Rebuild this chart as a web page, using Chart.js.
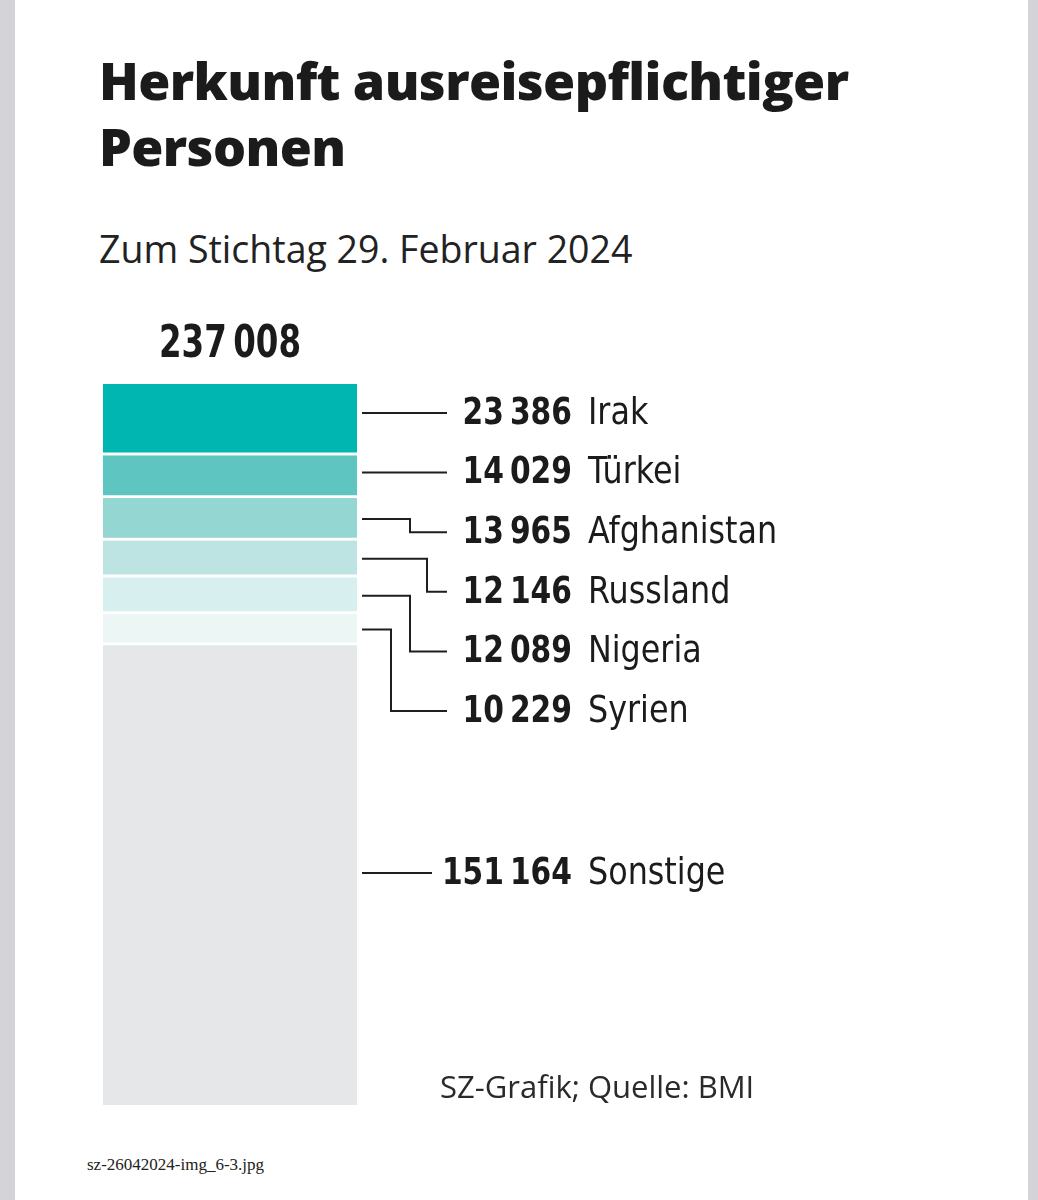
<!DOCTYPE html>
<html lang="de">
<head>
<meta charset="utf-8">
<title>Herkunft ausreisepflichtiger Personen</title>
<script src="https://cdn.jsdelivr.net/npm/chart.js@4.4.1/dist/chart.umd.min.js"></script>
<style>
  html, body { margin: 0; padding: 0; }
  body {
    width: 1038px; height: 1200px; position: relative; overflow: hidden;
    background: #fff; font-family: "Open Sans", sans-serif; color: #1b1b1b;
  }
  .edge { position: absolute; top: 0; bottom: 0; background: #d4d4d8; }
  .edge.left { left: 0; width: 15px; }
  .edge.right { right: 0; width: 10px; }
  h1 {
    position: absolute; left: 99px; top: 47px; margin: 0;
    font-size: 52px; line-height: 66px; font-weight: 800; letter-spacing: -0.6px;
  }
  .sub {
    position: absolute; left: 99px; top: 225px; margin: 0;
    font-size: 37.5px; line-height: 48px; font-weight: 400; color: #222;
  }
  .source {
    position: absolute; left: 440px; top: 1066px;
    font-size: 31px; line-height: 40px; color: #2a2a2a;
  }
  .file {
    position: absolute; left: 87px; top: 1155px;
    font-family: "Liberation Serif", serif; font-size: 17px; color: #222;
  }
  #wrap { position: absolute; left: 0; top: 300px; width: 1038px; height: 820px; }
</style>
</head>
<body>
<div class="edge left"></div>
<div class="edge right"></div>
<h1>Herkunft ausreisepflichtiger<br>Personen</h1>
<p class="sub">Zum Stichtag 29. Februar 2024</p>
<div id="wrap"><canvas id="stack"></canvas></div>
<div class="source">SZ-Grafik; Quelle: BMI</div>
<div class="file">sz-26042024-img_6-3.jpg</div>

<script>
// data
const countries = ['Irak', 'Türkei', 'Afghanistan', 'Russland', 'Nigeria', 'Syrien', 'Sonstige'];
const counts = [23386, 14029, 13965, 12146, 12089, 10229, 151164];
const shades = ['#00b6b1', '#5fc5c1', '#94d6d2', '#bde4e2', '#d7efee', '#ecf6f5', '#e6e7e9'];

const total = counts.reduce((a, b) => a + b, 0);

// format with a thin space as thousands separator
function fmt(n) {
    return String(n).replace(/\B(?=(\d{3})+(?!\d))/g, '\u2009');
}

// where the connector bends, measured from the bar edge (null = straight line)
const bends = [null, null, 53, 70, 53, 34, null];

const labelPlugin = {
    id: 'sideLabels',
    afterDatasetsDraw(chart) {
        const { ctx, chartArea } = chart;
        const y = chart.scales.y;
        const right = chartArea.right;
        const lineStart = right + 5;
        const lineEnd = right + 90;
        const valueRight = right + 215;
        const nameLeft = right + 231;

        ctx.save();
        ctx.strokeStyle = '#1e1e1e';
        ctx.lineWidth = 2;
        ctx.textBaseline = 'middle';

        // total above the bar
        ctx.fillStyle = '#1b1b1b';
        ctx.font = 'bold 44px "DejaVu Sans Condensed", "DejaVu Sans", sans-serif';
        ctx.save();
        ctx.translate((chartArea.left + right) / 2, chartArea.top - 38);
        ctx.scale(0.82, 1);
        ctx.textAlign = 'center';
        ctx.fillText(fmt(total), 0, 0);
        ctx.restore();

        let acc = 0;
        counts.forEach((v, i) => {
            const mid = y.getPixelForValue(acc + v / 2);
            acc += v;
            const last = i === counts.length - 1;
            const ly = last ? mid - 2 : chartArea.top + 29 + i * 59.6;
            const from = Math.abs(ly - mid) < 8 ? ly : mid;
            const end = last ? lineEnd - 15 : lineEnd;

            ctx.beginPath();
            if (bends[i] === null) {
                ctx.moveTo(lineStart, ly);
                ctx.lineTo(end, ly);
            } else {
                const bx = right + bends[i];
                ctx.moveTo(lineStart, from);
                ctx.lineTo(bx, from);
                ctx.lineTo(bx, ly);
                ctx.lineTo(end, ly);
            }
            ctx.stroke();

            // value (bold, condensed)
            ctx.save();
            ctx.translate(valueRight, ly + 1);
            ctx.scale(0.87, 1);
            ctx.textAlign = 'right';
            ctx.font = 'bold 38px "DejaVu Sans Condensed", "DejaVu Sans", sans-serif';
            ctx.fillText(fmt(v), 0, 0);
            ctx.restore();

            // country name
            ctx.save();
            ctx.translate(nameLeft, ly + 1);
            ctx.scale(0.93, 1);
            ctx.textAlign = 'left';
            ctx.font = '38px "DejaVu Sans Condensed", "DejaVu Sans", sans-serif';
            ctx.fillText(countries[i], 0, 0);
            ctx.restore();
        });
        ctx.restore();
    }
};

const datasets = counts.map((v, i) => ({
    label: countries[i],
    data: [v],
    backgroundColor: shades[i],
    borderColor: '#ffffff',
    borderWidth: { top: 0, left: 0, right: 0, bottom: i === counts.length - 1 ? 0 : 3 },
    borderSkipped: false,
    barPercentage: 1,
    categoryPercentage: 1
}));

new Chart(document.getElementById('stack'), {
    type: 'bar',
    data: { labels: ['Gesamt'], datasets: datasets },
    options: {
        responsive: true,
        maintainAspectRatio: false,
        animation: false,
        layout: { padding: { left: 103, right: 681, top: 84, bottom: 15 } },
        plugins: { legend: { display: false }, tooltip: { enabled: false } },
        scales: {
            x: { stacked: true, display: false },
            y: { stacked: true, display: false, reverse: true, min: 0, max: total }
        }
    },
    plugins: [labelPlugin]
});
</script>
</body>
</html>
